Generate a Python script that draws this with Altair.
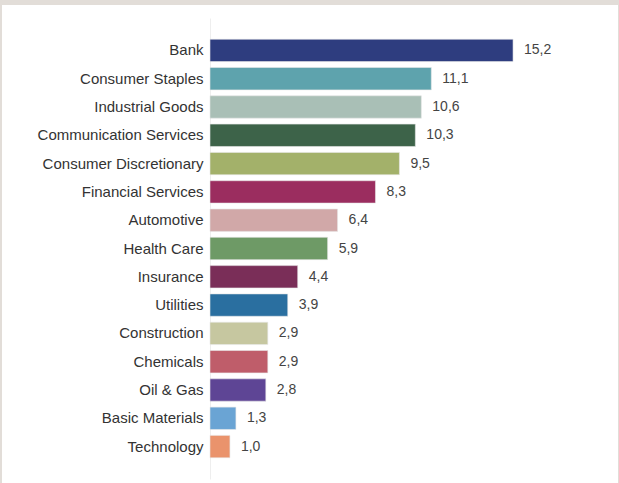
import altair as alt
import pandas as pd

categories = ["Bank", "Consumer Staples", "Industrial Goods", "Communication Services",
              "Consumer Discretionary", "Financial Services", "Automotive", "Health Care",
              "Insurance", "Utilities", "Construction", "Chemicals", "Oil & Gas",
              "Basic Materials", "Technology"]
values = [15.2, 11.1, 10.6, 10.3, 9.5, 8.3, 6.4, 5.9, 4.4, 3.9, 2.9, 2.9, 2.8, 1.3, 1.0]
labels = ["15,2", "11,1", "10,6", "10,3", "9,5", "8,3", "6,4", "5,9", "4,4", "3,9",
          "2,9", "2,9", "2,8", "1,3", "1,0"]
colors = ["#2e3d7f", "#5ea3ad", "#a9bfb6", "#3d6349", "#a3b16a", "#9b2d5f", "#d1a8a8",
          "#6e9a66", "#7a2e58", "#2a6fa0", "#c6c7a0", "#bf5d6a", "#5e4595", "#6aa4d4",
          "#ea936c"]

df = pd.DataFrame({"category": categories, "value": values, "label": labels})

W, H = 319, 461
PL, PT = 210, 18
FONT = "Liberation Sans"

y_enc = alt.Y("category:N", sort=categories,
              scale=alt.Scale(paddingInner=0.21, paddingOuter=0.75),
              axis=alt.Axis(title=None, ticks=False, labelPadding=7, labelFontSize=15,
                            labelFont=FONT, labelColor="#333333", domainColor="#eeeeee",
                            domainWidth=1, grid=False, labelLimit=300))
x_enc = alt.X("value:Q", scale=alt.Scale(domain=[0, 16], nice=False), axis=None)

bars = alt.Chart(df).mark_bar(stroke="#e8e8e8", strokeWidth=0.6).encode(
    y=y_enc, x=x_enc,
    color=alt.Color("category:N", scale=alt.Scale(domain=categories, range=colors), legend=None),
)
text = alt.Chart(df).mark_text(align="left", dx=11, fontSize=14, font=FONT, color="#444444").encode(
    y=alt.Y("category:N", sort=categories), x="value:Q", text="label:N"
)

border_df = pd.DataFrame({"k": [0]})
gray = "#e2ddd8"
top_band = alt.Chart(border_df).mark_rect(color=gray).encode(
    x=alt.value(-PL), x2=alt.value(619 - PL), y=alt.value(-PT), y2=alt.value(-PT + 5))
left_band = alt.Chart(border_df).mark_rect(color=gray).encode(
    x=alt.value(-PL), x2=alt.value(-PL + 2), y=alt.value(-PT), y2=alt.value(483 - PT))
right_band = alt.Chart(border_df).mark_rect(color=gray).encode(
    x=alt.value(618 - PL), x2=alt.value(619 - PL), y=alt.value(-PT), y2=alt.value(483 - PT))

chart = alt.layer(bars, text, top_band, left_band, right_band).properties(
    width=W, height=H,
    autosize=alt.AutoSizeParams(type="none"),
    padding={"left": PL, "top": PT, "right": 619 - PL - W, "bottom": 483 - PT - H},
    background="white",
).configure_view(stroke=None)

chart.save("out.html", embed_options={"renderer": "svg", "actions": False})
